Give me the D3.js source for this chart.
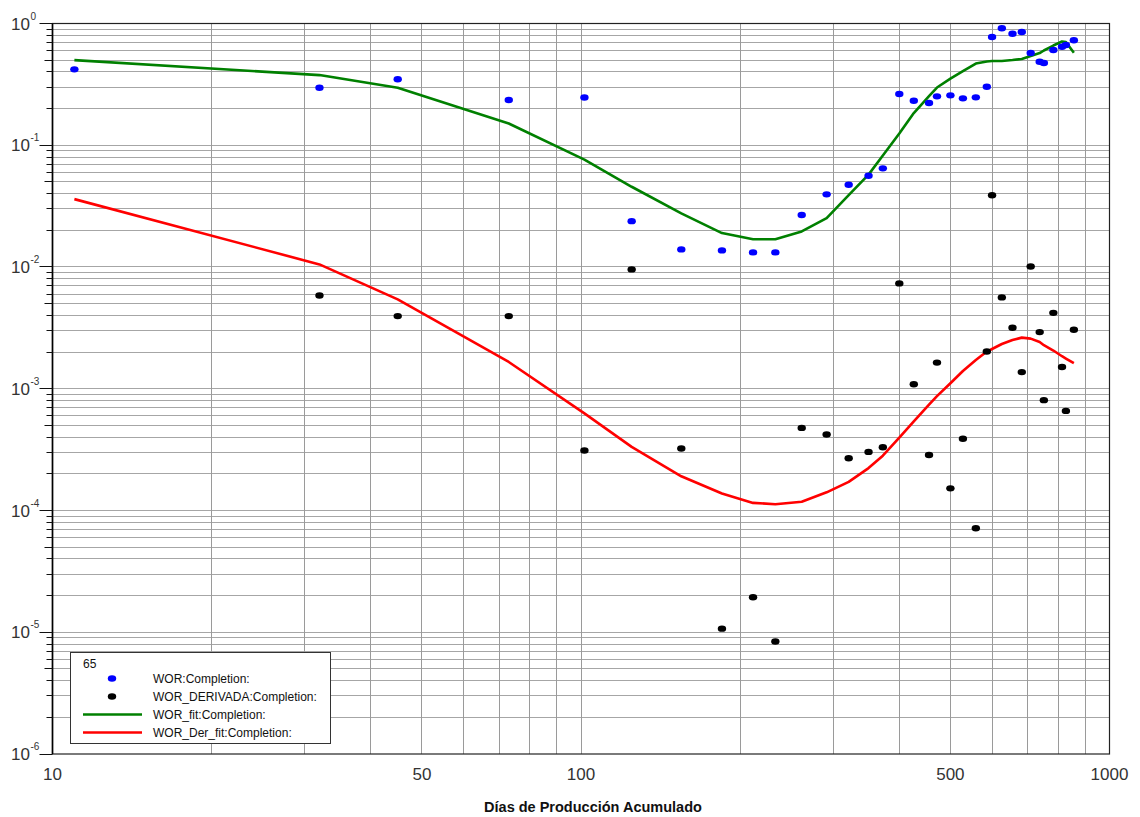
<!DOCTYPE html>
<html>
<head>
<meta charset="utf-8">
<script src="https://cdn.jsdelivr.net/npm/d3@7"></script>
<style>
  html, body { margin: 0; padding: 0; background: #fff; }
  svg { display: block; font-family: "Liberation Sans", Arial, sans-serif; }
</style>
</head>
<body>
<svg id="chart" width="1140" height="817"></svg>
<script>
// Days of cumulative production (shared by all series)
const days = [11, 32, 45, 73, 101.5, 124.7, 154.8, 184.8, 211.6, 233.2, 261.6, 291.6, 321, 350, 372.5,
  400.2, 426.3, 455.5, 471.6, 500, 528, 558.6, 586, 599.5, 625.6, 655.3, 682.4, 709.4, 737.7, 751.3,
  783, 813.1, 827, 856.2];

// WOR measured
const wor = [0.42, 0.297, 0.348, 0.235, 0.247, 0.0238, 0.01395, 0.01369, 0.01318, 0.01318, 0.0267, 0.0395,
  0.0474, 0.0562, 0.0646, 0.2634, 0.232, 0.2222, 0.2522, 0.257, 0.2428, 0.2474, 0.3024, 0.7747, 0.913,
  0.8244, 0.8514, 0.5723, 0.4855, 0.4736, 0.6057, 0.6448, 0.6658, 0.7277];

// WOR derivative (no value on the first day)
const worDer = [null, 5.84e-3, 3.95e-3, 3.95e-3, 3.11e-4, 9.56e-3, 3.23e-4, 1.07e-5, 1.94e-5, 8.39e-6,
  4.77e-4, 4.21e-4, 2.69e-4, 3.03e-4, 3.31e-4, 7.33e-3, 1.09e-3, 2.86e-4, 1.64e-3, 1.52e-4, 3.88e-4,
  7.15e-5, 2.02e-3, 0.0388, 5.63e-3, 3.17e-3, 1.37e-3, 0.0101, 2.92e-3, 8.06e-4, 4.2e-3, 1.51e-3,
  6.58e-4, 3.05e-3];

// Fitted WOR
const worFit = [0.50, 0.377, 0.297, 0.151, 0.0763, 0.0456, 0.0276, 0.019, 0.0169, 0.0169, 0.0196, 0.0252,
  0.039, 0.0574, 0.0823, 0.1248, 0.184, 0.2536, 0.298, 0.353, 0.407, 0.469, 0.488, 0.492, 0.492, 0.501,
  0.511, 0.541, 0.572, 0.60, 0.659, 0.711, 0.705, 0.575];

// Fitted WOR derivative
const derFit = [0.0361, 0.0105, 5.42e-3, 1.66e-3, 6.27e-4, 3.33e-4, 1.91e-4, 1.38e-4, 1.155e-4, 1.127e-4,
  1.18e-4, 1.41e-4, 1.72e-4, 2.23e-4, 2.82e-4, 3.96e-4, 5.39e-4, 7.40e-4, 8.69e-4, 1.11e-3, 1.40e-3,
  1.72e-3, 2.02e-3, 2.12e-3, 2.33e-3, 2.51e-3, 2.63e-3, 2.58e-3, 2.42e-3, 2.28e-3, 2.06e-3, 1.85e-3,
  1.77e-3, 1.62e-3];

const xTickValues = [10, 50, 100, 500, 1000];
const yDecades = [0, -1, -2, -3, -4, -5, -6];
const legendTitle = "65";
const legendItems = [
  { name: "WOR:Completion:", kind: "dot", color: "#0000ff" },
  { name: "WOR_DERIVADA:Completion:", kind: "dot", color: "#000000" },
  { name: "WOR_fit:Completion:", kind: "line", color: "#008000" },
  { name: "WOR_Der_fit:Completion:", kind: "line", color: "#ff0000" }
];
const xTitle = "Días de Producción Acumulado";

const svg = d3.select("#chart");
const L = 52.5, R = 1109.5, T = 23.5, B = 754;
const x = d3.scaleLog().domain([10, 1000]).range([L, R]);
const y = d3.scaleLog().domain([1e-6, 1]).range([B, T]);

const crisp = v => Math.round(v - 0.5) + 0.5;

// Grid
const grid = svg.append("g");
const yGridVals = [];
for (let e = -6; e < 0; e++) for (let m = 1; m <= 9; m++) yGridVals.push(m * Math.pow(10, e));
grid.selectAll("line.h").data(yGridVals.filter(v => v > 1e-6)).join("line")
  .attr("x1", L).attr("x2", R)
  .attr("y1", d => crisp(y(d))).attr("y2", d => crisp(y(d)))
  .attr("stroke", "#a6a6a6").attr("stroke-width", 1);
const xGridVals = [];
for (let e = 1; e < 3; e++) for (let m = 1; m <= 9; m++) xGridVals.push(m * Math.pow(10, e));
grid.selectAll("line.v").data(xGridVals.filter(v => v > 10)).join("line")
  .attr("y1", T).attr("y2", B)
  .attr("x1", d => crisp(x(d))).attr("x2", d => crisp(x(d)))
  .attr("stroke", "#9a9a9a").attr("stroke-width", 1);

// Frame
svg.append("rect").attr("x", L).attr("y", T).attr("width", R - L).attr("height", B - T)
  .attr("fill", "none").attr("stroke", "#222").attr("stroke-width", 1.2);
svg.append("line").attr("x1", L).attr("x2", L).attr("y1", T).attr("y2", B)
  .attr("stroke", "#000").attr("stroke-width", 1.6);

// Y ticks outside the axis
const yTicks = svg.append("g");
yGridVals.concat([1]).forEach(v => {
  const m = Math.round(v / Math.pow(10, Math.floor(Math.log10(v) + 1e-9)));
  const len = m === 1 ? 13 : (m === 5 ? 8 : 6);
  yTicks.append("line").attr("x1", L - len).attr("x2", L)
    .attr("y1", crisp(y(v))).attr("y2", crisp(y(v)))
    .attr("stroke", "#111").attr("stroke-width", 1);
});

// Y labels: 10 with exponent
const yLab = svg.append("g").attr("fill", "#333");
yDecades.forEach(e => {
  const yy = y(Math.pow(10, e));
  yLab.append("text").attr("x", 30).attr("y", yy + 6).attr("text-anchor", "end")
    .attr("font-size", 17).text("10");
  yLab.append("text").attr("x", 30.5).attr("y", yy - 4).attr("font-size", 10).text(String(e));
});

// X labels
svg.append("g").attr("fill", "#333").selectAll("text").data(xTickValues).join("text")
  .attr("x", d => x(d)).attr("y", 780).attr("text-anchor", "middle").attr("font-size", 17)
  .text(d => d);

svg.append("text").attr("x", 593).attr("y", 812).attr("text-anchor", "middle")
  .attr("font-size", 14.5).attr("font-weight", "bold").attr("fill", "#111").text(xTitle);

// Data marks
const plot = svg.append("g");
const line = d3.line().x(d => x(d[0])).y(d => y(d[1]));
plot.append("path").datum(days.map((d, i) => [d, worFit[i]]))
  .attr("d", line).attr("fill", "none").attr("stroke", "#008000").attr("stroke-width", 2.6)
  .attr("stroke-linejoin", "round");
plot.append("path").datum(days.map((d, i) => [d, derFit[i]]))
  .attr("d", line).attr("fill", "none").attr("stroke", "#ff0000").attr("stroke-width", 2.6)
  .attr("stroke-linejoin", "round");

plot.selectAll("ellipse.wor").data(days.map((d, i) => [d, wor[i]])).join("ellipse")
  .attr("cx", d => x(d[0])).attr("cy", d => y(d[1])).attr("rx", 4.2).attr("ry", 3.2)
  .attr("fill", "#0000ff");
plot.selectAll("ellipse.der").data(days.map((d, i) => [d, worDer[i]]).filter(d => d[1] != null))
  .join("ellipse")
  .attr("cx", d => x(d[0])).attr("cy", d => y(d[1])).attr("rx", 4.2).attr("ry", 3.2)
  .attr("fill", "#000");

// Legend
const lg = svg.append("g");
lg.append("rect").attr("x", 70.5).attr("y", 652.5).attr("width", 260).attr("height", 91)
  .attr("fill", "#fff").attr("stroke", "#333").attr("stroke-width", 1);
lg.append("text").attr("x", 83).attr("y", 668).attr("font-size", 12).attr("fill", "#111").text(legendTitle);
legendItems.forEach((it, i) => {
  const cy = 678.5 + i * 18;
  if (it.kind === "dot") {
    lg.append("ellipse").attr("cx", 112).attr("cy", cy).attr("rx", 4.2).attr("ry", 3.2).attr("fill", it.color);
  } else {
    lg.append("line").attr("x1", 83).attr("x2", 142).attr("y1", cy).attr("y2", cy)
      .attr("stroke", it.color).attr("stroke-width", 2.6);
  }
  lg.append("text").attr("x", 153).attr("y", cy + 4).attr("font-size", 12).attr("fill", "#111").text(it.name);
});
</script>
</body>
</html>
